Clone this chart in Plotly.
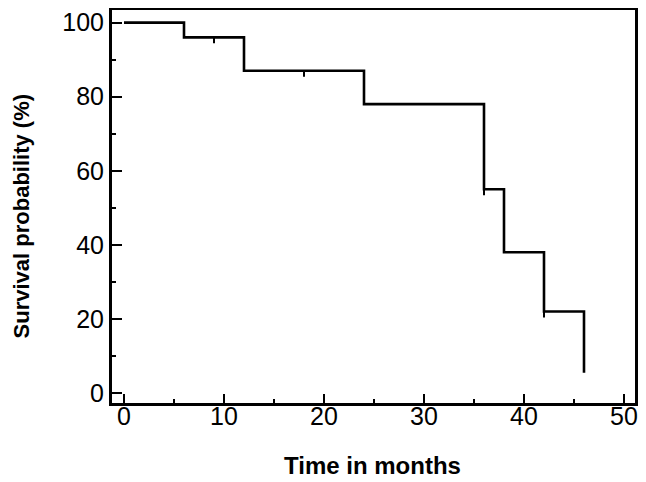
import plotly.graph_objects as go

# Kaplan-Meier step data (months, survival %)
times = [0, 6, 12, 24, 36, 38, 42, 46]
survival = [100, 96, 87, 78, 55, 38, 22, 5.5]

# censored observations (months, survival level at that time)
censor_times = [9, 18, 36, 42]
censor_levels = [96, 87, 55, 22]

x_ticks = [0, 10, 20, 30, 40, 50]
y_ticks = [0, 20, 40, 60, 80, 100]

TICK_DROP = 1.6  # length of censor tick marks in % units

cx, cy = [], []
for t, s in zip(censor_times, censor_levels):
    cx += [t, t, None]
    cy += [s, s - TICK_DROP, None]

fig = go.Figure()
fig.add_trace(go.Scatter(
    x=times, y=survival, mode="lines", line=dict(color="black", width=2.6, shape="hv"),
    showlegend=False, hoverinfo="skip"))
fig.add_trace(go.Scatter(
    x=cx, y=cy, mode="lines", line=dict(color="black", width=2),
    showlegend=False, hoverinfo="skip"))

font_family = "Liberation Sans, Arial, sans-serif"

# the page body adds an 8px margin, so the figure is 8px smaller than the window
fig.update_layout(
    width=638, height=474,
    margin=dict(l=104, r=11, t=2, b=79),
    paper_bgcolor="white", plot_bgcolor="white",
    font=dict(family=font_family, color="black"),
    xaxis=dict(
        range=[-1.2, 51.1], tickvals=x_ticks, ticktext=[str(v) for v in x_ticks],
        showgrid=False, zeroline=False, automargin=False,
        showline=True, linecolor="black", linewidth=3, mirror=True,
        ticks="inside", ticklen=9, tickwidth=2, tickcolor="black",
        minor=dict(ticks="inside", ticklen=4, tickwidth=2, dtick=5, tick0=0, tickcolor="black", showgrid=False),
        tickfont=dict(size=25, family=font_family, color="black"),
        ticklabelstandoff=-11,
    ),
    yaxis=dict(
        range=[-2.7, 103.4], tickvals=y_ticks, ticktext=[str(v) for v in y_ticks],
        showgrid=False, zeroline=False, automargin=False,
        showline=True, linecolor="black", linewidth=3, mirror=True,
        ticks="inside", ticklen=10, tickwidth=2, tickcolor="black",
        minor=dict(ticks="inside", ticklen=4, tickwidth=2, dtick=10, tick0=0, tickcolor="black", showgrid=False),
        tickfont=dict(size=25, family=font_family, color="black"),
    ),
    annotations=[
        dict(text="<b>Time in months</b>", xref="paper", yref="paper", x=0.499, y=-0.160,
             xanchor="center", yanchor="middle", showarrow=False,
             font=dict(size=24, family=font_family, color="black")),
        dict(text="<b>Survival probability (%)</b>", xref="paper", yref="paper", x=-0.173, y=0.476,
             xanchor="center", yanchor="middle", showarrow=False, textangle=-90,
             font=dict(size=22, family=font_family, color="black")),
    ],
)

fig.write_html("out.html")
